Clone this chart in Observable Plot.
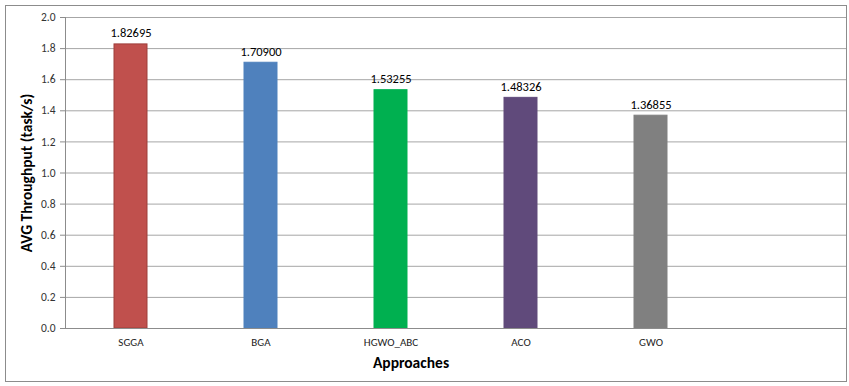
<!DOCTYPE html>
<html>
<head>
<meta charset="utf-8">
<script src="https://cdn.jsdelivr.net/npm/d3@7"></script>
<script src="https://cdn.jsdelivr.net/npm/@observablehq/plot@0.6"></script>
<style>
  html, body { margin: 0; padding: 0; background: #fff; }
  #wrap { position: relative; width: 849px; height: 386px; overflow: hidden; }
  #border { position: absolute; left: 5px; top: 5px; width: 842px; height: 377px; border: 1.5px solid #8c8c8c; box-sizing: border-box; pointer-events: none; }
</style>
</head>
<body>
<div id="wrap"><div id="border"></div></div>
<script>
const approaches = ["SGGA", "BGA", "HGWO_ABC", "ACO", "GWO"];
const throughput = [1.82695, 1.70900, 1.53255, 1.48326, 1.36855];
const valueLabels = ["1.82695", "1.70900", "1.53255", "1.48326", "1.36855"];
const barColors = ["#C0504D", "#4F81BD", "#00B050", "#604A7B", "#808080"];
const barStrokes = ["#9E3E3B", "#4F81BD", "#00B050", "#604A7B", "#808080"];
const yTicks = [0, 0.2, 0.4, 0.6, 0.8, 1.0, 1.2, 1.4, 1.6, 1.8, 2.0];

const data = approaches.map((a, i) => ({a, v: throughput[i], label: valueLabels[i], fill: barColors[i], stroke: barStrokes[i]}));
const xDomain = [...approaches, " "];
const font = "Carlito, 'Open Sans', 'Noto Sans', sans-serif";

const chart = Plot.plot({
  width: 849,
  height: 386,
  marginLeft: 65,
  marginRight: 3,
  marginTop: 17,
  marginBottom: 58,
  style: {fontFamily: font, fontSize: "11px", color: "#000", background: "transparent"},
  x: {domain: xDomain, paddingInner: 0.746, paddingOuter: 0.373, label: null},
  y: {domain: [0, 2.0], label: null},
  marks: [
    Plot.gridY(yTicks, {stroke: "#a6a6a6", strokeOpacity: 1, strokeWidth: 1}),
    Plot.axisY(yTicks, {tickFormat: d3.format(".1f"), tickSize: 5, tickPadding: 5, stroke: "#8c8c8c", fontSize: 11.5, fill: "#333", label: null}),
    Plot.axisX({tickSize: 0, tickPadding: 10, fontSize: 11, fill: "#222", label: null, tickFormat: d => d}),
    Plot.barY(data, {x: "a", y: "v", fill: "fill", stroke: "stroke", strokeWidth: 1}),
    Plot.text(data, {x: "a", y: "v", text: "label", dy: -11, fontSize: 12.5, fill: "#000"}),
    Plot.frame({anchor: "left", stroke: "#8c8c8c"}),
    Plot.ruleY([0], {stroke: "#8c8c8c"}),
    Plot.text(["AVG Throughput (task/s)"], {frameAnchor: "left", textAnchor: "middle", rotate: -90, dx: -38, fontWeight: "bold", fontSize: 15.5, fill: "#000"}),
    Plot.text(["Approaches"], {frameAnchor: "bottom", textAnchor: "middle", dx: -45, dy: 39, fontWeight: "bold", fontSize: 15.5, fill: "#000"})
  ]
});
document.getElementById("wrap").prepend(chart);
</script>
</body>
</html>
